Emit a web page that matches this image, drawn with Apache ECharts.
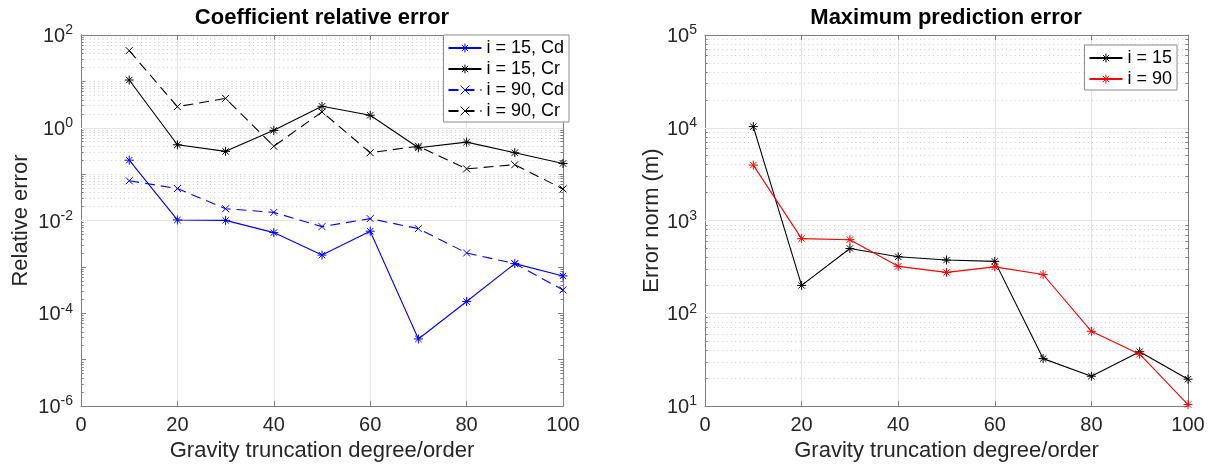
<!DOCTYPE html>
<html>
<head>
<meta charset="utf-8">
<script src="https://cdn.jsdelivr.net/npm/echarts@6/dist/echarts.min.js"></script>
<style>html,body{margin:0;padding:0;background:#fff;}#c{width:1209px;height:467px;}</style>
</head>
<body>
<div id="c"></div>
<script>
// ---- data ----
var degrees = [10, 20, 30, 40, 50, 60, 70, 80, 90, 100];
var cd15 = [0.2, 0.0103, 0.0101, 0.0055, 0.0018, 0.0059, 2.8e-5, 1.8e-4, 0.00118, 0.00064];
var cr15 = [10.7, 0.43, 0.31, 0.88, 2.9, 1.86, 0.37, 0.49, 0.29, 0.17];
var cd90 = [0.072, 0.049, 0.018, 0.015, 0.0074, 0.011, 0.0067, 0.002, 0.00118, 0.00032];
var cr90 = [46, 2.85, 4.3, 0.40, 2.2, 0.29, 0.40, 0.13, 0.16, 0.048];
var err15 = [10300, 200, 500, 407, 375, 363, 32.5, 21, 38.6, 19.5];
var err90 = [3960, 638, 622, 321, 276, 317, 262, 64, 36.3, 10.4];
var xTicks = [0, 20, 40, 60, 80, 100];
var leftDecades = [-6, 2];   // exponent range, left plot
var rightDecades = [1, 5];   // exponent range, right plot
var leftLabelled = [-6, -4, -2, 0, 2];
var titles = ['Coefficient relative error', 'Maximum prediction error'];
var yNames = ['Relative error', 'Error norm (m)'];
var xName = 'Gravity truncation degree/order';

var FONT = '"Liberation Sans", Arial, Helvetica, sans-serif';
var AX = '#7f7f7f', TXT = '#262626';
var STAR = 'path://M0,-10L0,10M-10,0L10,0M-7.07,-7.07L7.07,7.07M-7.07,7.07L7.07,-7.07';
var CROSS = 'path://M-10,-10L10,10M-10,10L10,-10';

function pairs(ys) { return degrees.map(function (d, i) { return [d, ys[i]]; }); }

function gridLines(lo, hi, labelled) {
  var out = [];
  var tick = 0.55; // minor tick length in x units (~2.7px)
  for (var k = lo; k < hi; k++) {
    for (var m = 1; m <= 9; m++) {
      var v = m * Math.pow(10, k);
      if (m === 1 && k === lo) continue;
      var major = (m === 1) && (labelled ? labelled.indexOf(k) >= 0 : true);
      out.push({
        yAxis: v,
        lineStyle: major ? {color: '#e4e4e4', width: 1, type: 'solid'}
                         : {color: '#cdcdcd', width: 1, type: [1, 3.3]}
      });
      if (!major) {
        out.push([{coord: [xTicks[0], v], lineStyle: {color: AX, width: 1, type: 'solid'}},
                  {coord: [xTicks[0] + tick, v]}]);
        out.push([{coord: [xTicks[xTicks.length - 1] - tick, v], lineStyle: {color: AX, width: 1, type: 'solid'}},
                  {coord: [xTicks[xTicks.length - 1], v]}]);
      }
    }
  }
  return out;
}

function supLabel(labelled) {
  return function (v) {
    var e = Math.round(Math.log10(v));
    if (labelled && labelled.indexOf(e) < 0) return '';
    return '{b|10}{s|' + (e < 0 ? '-' + (-e) : e) + '}';
  };
}
var rich = {
  b: {fontSize: 20, color: TXT, fontFamily: FONT, verticalAlign: 'bottom'},
  s: {fontSize: 14, color: TXT, fontFamily: FONT, verticalAlign: 'bottom', padding: [0, 0, 9, 0]}
};

var grids = [
  {left: 81, top: 35, width: 482, height: 375},
  {left: 705, top: 35, width: 483, height: 375}
];

var xAxes = [], yAxes = [];
[0, 1].forEach(function (g) {
  xAxes.push({
    gridIndex: g, type: 'value', min: xTicks[0], max: xTicks[xTicks.length - 1], interval: 20, position: 'bottom',
    name: xName, nameLocation: 'middle', nameGap: 33,
    nameTextStyle: {fontSize: 22, color: TXT, fontFamily: FONT},
    axisLine: {show: true, onZero: false, lineStyle: {color: AX, width: 1}},
    axisTick: {show: true, inside: true, length: 5, lineStyle: {color: AX}},
    axisLabel: {margin: 9, fontSize: 20, color: TXT, fontFamily: FONT},
    splitLine: {show: true, lineStyle: {color: '#e4e4e4', width: 1}}
  });
  xAxes.push({
    gridIndex: g, type: 'value', min: xTicks[0], max: xTicks[xTicks.length - 1], interval: 20, position: 'top',
    axisLine: {show: true, onZero: false, lineStyle: {color: AX, width: 1}},
    axisTick: {show: true, inside: true, length: 5, lineStyle: {color: AX}},
    axisLabel: {show: false}, splitLine: {show: false}
  });
  var dec = g === 0 ? leftDecades : rightDecades;
  var lab = g === 0 ? leftLabelled : null;
  yAxes.push({
    gridIndex: g, type: 'log', logBase: 10, min: Math.pow(10, dec[0]), max: Math.pow(10, dec[1]),
    position: 'left',
    name: yNames[g], nameLocation: 'middle', nameGap: g === 0 ? 49 : 39,
    nameTextStyle: {fontSize: 22, color: TXT, fontFamily: FONT},
    axisLine: {show: true, onZero: false, lineStyle: {color: AX, width: 1}},
    axisTick: {show: true, inside: true, length: 5, lineStyle: {color: AX}},
    axisLabel: {margin: 8, formatter: supLabel(lab), rich: rich},
    splitLine: {show: false}
  });
  yAxes.push({
    gridIndex: g, type: 'log', logBase: 10, min: Math.pow(10, dec[0]), max: Math.pow(10, dec[1]),
    position: 'right',
    axisLine: {show: true, onZero: false, lineStyle: {color: AX, width: 1}},
    axisTick: {show: true, inside: true, length: 5, lineStyle: {color: AX}},
    axisLabel: {show: false}, splitLine: {show: false}
  });
});

function dataSeries(name, g, ys, color, dashed, sym, size) {
  return {
    name: name, type: 'line', xAxisIndex: g * 2, yAxisIndex: g * 2, data: pairs(ys),
    symbol: sym, symbolSize: size, showSymbol: true, z: 5,
    lineStyle: {color: color, width: 1.1, type: dashed ? [10, 6] : 'solid'},
    itemStyle: {color: color, borderColor: color, borderWidth: 1},
    emphasis: {disabled: true}, animation: false
  };
}
function gridSeries(g, lo, hi, labelled) {
  return {
    type: 'line', xAxisIndex: g * 2, yAxisIndex: g * 2, data: [], silent: true, z: 1,
    markLine: {silent: true, symbol: 'none', label: {show: false}, animation: false,
      emphasis: {disabled: true}, data: gridLines(lo, hi, labelled)}
  };
}

var legendBase = {
  orient: 'vertical', backgroundColor: '#fff', borderColor: '#8c8c8c', borderWidth: 1,
  itemWidth: 33, itemHeight: 11, itemGap: 3, selectedMode: false, z: 20,
  itemStyle: {borderWidth: 1},
  textStyle: {fontSize: 18, color: '#000', fontFamily: FONT}
};

var option = {
  animation: false,
  textStyle: {fontFamily: FONT},
  title: [
    {text: titles[0], left: 322, top: 7, textAlign: 'center', padding: 0,
     textStyle: {fontSize: 22, fontWeight: 'bold', color: '#000', fontFamily: FONT}},
    {text: titles[1], left: 946, top: 7, textAlign: 'center', padding: 0,
     textStyle: {fontSize: 22, fontWeight: 'bold', color: '#000', fontFamily: FONT}}
  ],
  legend: [
    Object.assign({}, legendBase, {right: 640, top: 35, padding: [4, 5, 2, 4],
      data: ['i = 15, Cd', 'i = 15, Cr', 'i = 90, Cd', 'i = 90, Cr']}),
    Object.assign({}, legendBase, {right: 32, top: 45, padding: [4, 5, 2, 4],
      data: ['i = 15', 'i = 90']})
  ],
  grid: grids,
  xAxis: xAxes,
  yAxis: yAxes,
  series: [
    gridSeries(0, leftDecades[0], leftDecades[1], leftLabelled),
    gridSeries(1, rightDecades[0], rightDecades[1], null),
    dataSeries('i = 15, Cd', 0, cd15, '#0000ff', false, STAR, 9),
    dataSeries('i = 15, Cr', 0, cr15, '#000000', false, STAR, 9),
    dataSeries('i = 90, Cd', 0, cd90, '#0000ff', true, CROSS, 7),
    dataSeries('i = 90, Cr', 0, cr90, '#000000', true, CROSS, 7),
    dataSeries('i = 15', 1, err15, '#000000', false, STAR, 9),
    dataSeries('i = 90', 1, err90, '#ff0000', false, STAR, 9)
  ]
};
var chart = echarts.init(document.getElementById('c'), null, {renderer: 'canvas'});
chart.setOption(option);
</script>
</body>
</html>
